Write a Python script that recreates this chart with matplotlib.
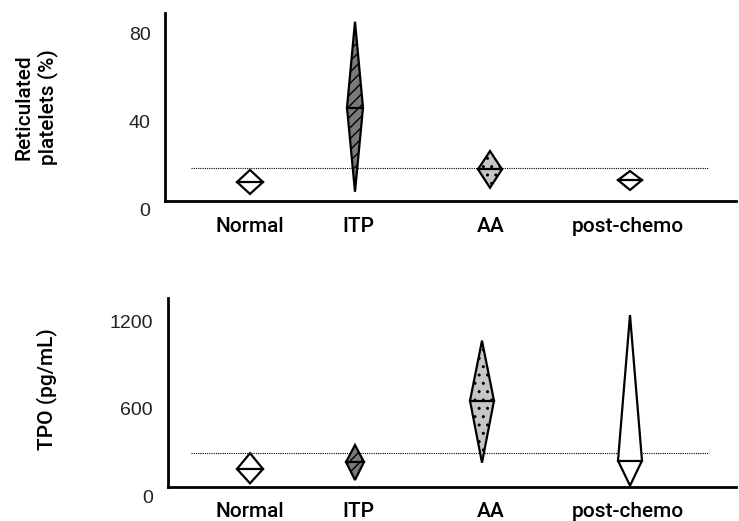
import matplotlib
matplotlib.use("Agg")
import matplotlib.pyplot as plt

plt.rcParams['font.family'] = ['Liberation Sans', 'DejaVu Sans']
plt.rcParams['hatch.linewidth'] = 1.0
plt.rcParams['hatch.color'] = 'black'

categories = ["Normal", "ITP", "AA", "post-chemo"]

# Reticulated platelets (%): max, median, min
retic_max = [18.2, 85.6, 26.8, 17.7]
retic_med = [12.7, 46.5, 18.5, 13.6]
retic_min = [7.3, 8.3, 10.1, 9.1]
retic_ref = 18.9
retic_ticks = [0, 40, 80]

# TPO (pg/mL): max, median, min
tpo_max = [296, 352, 1066, 1241]
tpo_med = [188, 236, 655, 245]
tpo_min = [90, 113, 231, 74]
tpo_ref = 295
tpo_ticks = [0, 600, 1200]

W, H = 739, 521
fig = plt.figure(figsize=(W / 100, H / 100), dpi=100)

label_font = dict(family=['Roboto', 'Liberation Sans', 'DejaVu Sans'],
                  weight='medium')

# styles
fills = ['white', '#7a7a7a', '#c6c6c6', 'white']
hatches = [None, '///', '..', None]
half_w_top = [13, 8, 12, 12]
half_w_bot = [13, 9, 12, 12]
x_top = [250, 355, 490, 630]
x_bot = [250, 355, 482, 630]
label_x = [250, 358, 491, 628]


def make_axes(left_px, right_px, top_px, zero_px, scale):
    bottom = (H - zero_px) / H
    height = (zero_px - top_px) / H
    ax = fig.add_axes([left_px / W, bottom, (right_px - left_px) / W, height])
    ax.set_xlim(left_px, right_px)
    ax.set_ylim(0, (zero_px - top_px) / scale)
    return ax


def draw(ax, xs, hw, vmax, vmed, vmin, ref, ticks, spine_val, ytop, xpad):
    for i in range(len(categories)):
        x = xs[i]
        poly_x = [x, x + hw[i], x, x - hw[i]]
        poly_y = [vmax[i], vmed[i], vmin[i], vmed[i]]
        ax.fill(poly_x, poly_y, facecolor=fills[i], edgecolor='black',
                hatch=hatches[i], linewidth=1.6, joinstyle='miter', zorder=3)
        ax.plot([x - hw[i], x + hw[i]], [vmed[i], vmed[i]], color='black',
                linewidth=1.6, zorder=4)
    ax.hlines(ref, 191, 708, colors='black', linestyles=(0, (1, 1)),
              linewidth=0.8, zorder=2)
    for s in ['top', 'right']:
        ax.spines[s].set_visible(False)
    ax.spines['bottom'].set_position(('data', spine_val))
    ax.spines['left'].set_bounds(spine_val, ytop)
    for s in ['left', 'bottom']:
        ax.spines[s].set_linewidth(2.0)
    ax.set_yticks(ticks)
    ax.set_yticklabels([str(t) for t in ticks], fontsize=14, color='#222222')
    ax.set_xticks(label_x)
    ax.set_xticklabels(categories, fontsize=15, color='black', **label_font)
    ax.tick_params(axis='y', length=0, pad=10.5)
    ax.tick_params(axis='x', length=0, pad=xpad)


# top panel
s1 = 2.2
ax1 = make_axes(165, 736, 13, 210, s1)
draw(ax1, x_top, half_w_top, retic_max, retic_med, retic_min, retic_ref,
     retic_ticks, (210 - 200.7) / s1, (210 - 13) / s1, 12)

# bottom panel
s2 = 0.1462
ax2 = make_axes(167.5, 736, 298.3, 496.5, s2)
draw(ax2, x_bot, half_w_bot, tpo_max, tpo_med, tpo_min, tpo_ref,
     tpo_ticks, (496.5 - 487.3) / s2, (496.5 - 298.3) / s2, 10.5)

fig.text(36 / W, 1 - 107 / H, "Reticulated\nplatelets (%)", rotation=90,
         ha='center', va='center', fontsize=15, multialignment='center',
         linespacing=1.25, **label_font)
fig.text(47 / W, 1 - 389.5 / H, "TPO (pg/mL)", rotation=90,
         ha='center', va='center', fontsize=15, **label_font)

fig.savefig("out.png", dpi=100)
